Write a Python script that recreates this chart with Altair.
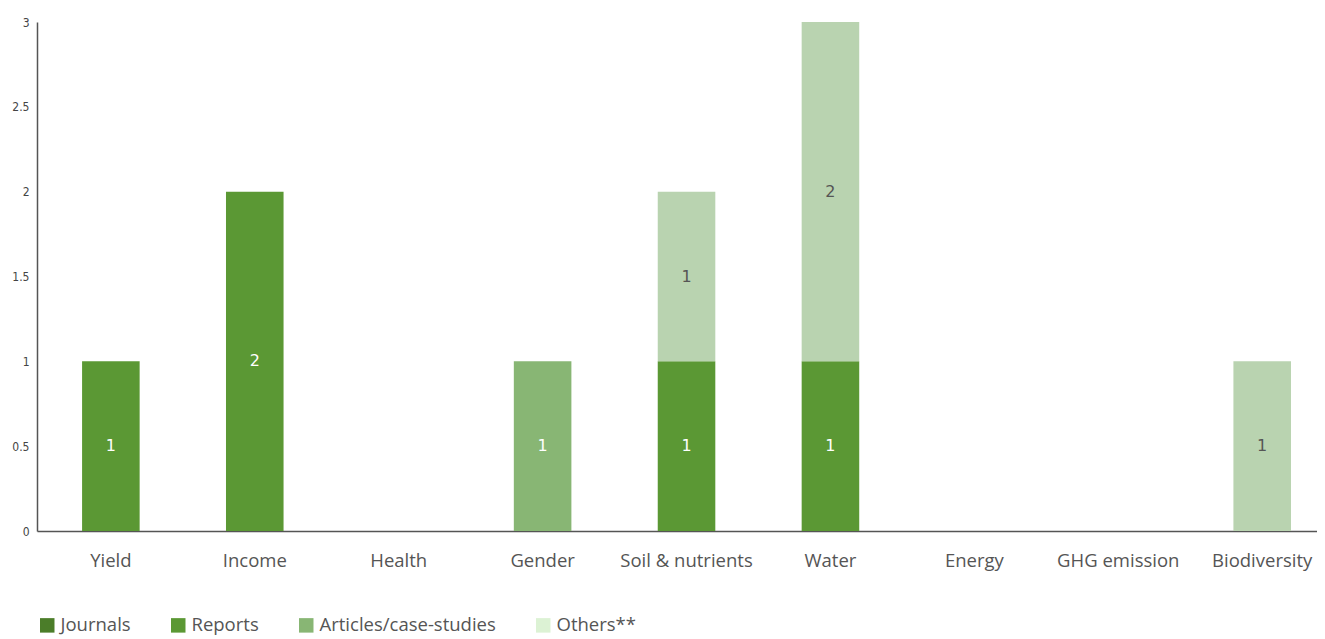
import altair as alt
import pandas as pd

categories = ["Yield", "Income", "Health", "Gender", "Soil & nutrients", "Water",
              "Energy", "GHG emission", "Biodiversity"]
series = ["Journals", "Reports", "Articles/case-studies", "Others**"]
journals = [0, 0, 0, 0, 0, 0, 0, 0, 0]
reports = [1, 2, 0, 0, 1, 1, 0, 0, 0]
articles = [0, 0, 0, 1, 0, 0, 0, 0, 0]
others = [0, 0, 0, 0, 1, 2, 0, 0, 1]
bar_colors = ["#4b7d29", "#5b9834", "#88b674", "#b9d3b0"]
legend_colors = ["#4b7d29", "#5b9834", "#88b674", "#dcf2d4"]
y_ticks = [0, 0.5, 1, 1.5, 2, 2.5, 3]

rows = []
for s_i, (s, vals) in enumerate(zip(series, [journals, reports, articles, others])):
    for c, v in zip(categories, vals):
        rows.append({"category": c, "series": s, "order": s_i, "n": v})
df = pd.DataFrame(rows)

LABEL_FONT = "Open Sans"

x_enc = alt.X("category:N", sort=categories, title=None,
              scale=alt.Scale(domain=categories, paddingInner=0.6, paddingOuter=0.247,
                              align=0.634),
              axis=alt.Axis(labelAngle=0, ticks=False, domainColor="#555",
                            domainWidth=1.5, labelColor="#555", labelFont=LABEL_FONT,
                            labelFontSize=18.5, labelPadding=20, grid=False))

base = alt.Chart(df).transform_filter("datum.n > 0")

bars = base.mark_bar().encode(
    x=x_enc,
    y=alt.Y("sum(n):Q", title=None, stack="zero",
            scale=alt.Scale(domain=[0, 3], nice=False),
            axis=alt.Axis(values=y_ticks, format="~g", ticks=False, grid=False,
                          domainColor="#555", domainWidth=1.5, labelColor="#444",
                          labelFont="DejaVu Sans Condensed", labelFontSize=12,
                          labelPadding=8)),
    color=alt.Color("series:N", scale=alt.Scale(domain=series, range=bar_colors),
                    legend=None),
    order=alt.Order("order:Q"),
)

legend_layer = alt.Chart(df).transform_filter("datum.n < 0").mark_bar().encode(
    x=alt.X("category:N", sort=categories),
    y=alt.Y("n:Q"),
    color=alt.Color("series:N", scale=alt.Scale(domain=series, range=legend_colors),
                    legend=alt.Legend(title=None, orient="none", direction="horizontal",
                                      legendX=1, legendY=594,
                                      symbolType="square", symbolSize=210,
                                      symbolStrokeWidth=0, labelFont=LABEL_FONT,
                                      labelFontSize=18.5, labelColor="#555",
                                      labelLimit=400,
                                      columnPadding=38, labelOffset=4)),
)

texts = base.transform_stack(
    stack="n", groupby=["category"], as_=["y0", "y1"],
    sort=[alt.SortField("order", order="ascending")]
).transform_calculate(mid="(datum.y0 + datum.y1) / 2").mark_text(
    font="DejaVu Sans", fontSize=16, baseline="middle"
).encode(
    x=alt.X("category:N", sort=categories),
    y=alt.Y("mid:Q"),
    text=alt.Text("n:Q"),
    color=alt.condition("datum.series == 'Others**'", alt.value("#555555"),
                        alt.value("#ffffff")),
)

chart = alt.layer(bars, texts, legend_layer).resolve_scale(
    color="independent"
).properties(
    width=1280, height=509, padding={"top": 8, "left": 3, "right": 0, "bottom": 0}
).configure_view(strokeWidth=0, stroke="transparent")

chart.save("out.html", embed_options={"renderer": "svg", "actions": False})
